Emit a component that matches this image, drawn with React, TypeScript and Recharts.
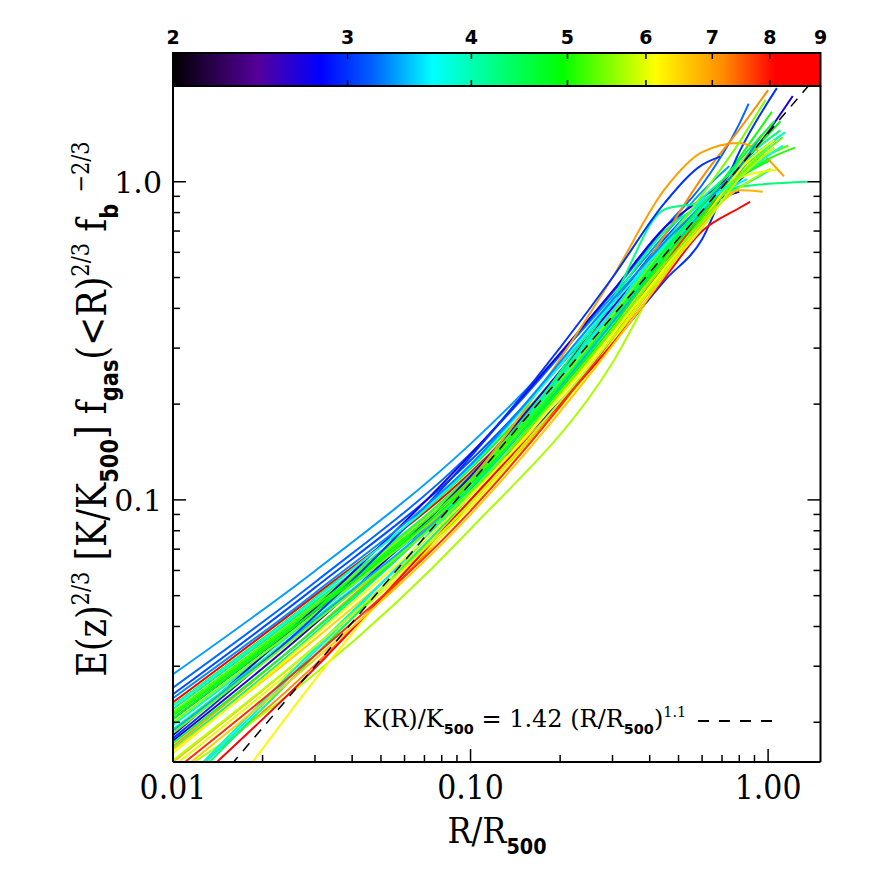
import React from 'react';
import { LineChart, ComposedChart, Line, XAxis, YAxis, ReferenceArea, Label } from 'recharts';

// ---------- data ----------
const GRID_X = [0.01, 0.03, 0.1, 0.3, 0.45, 0.6, 0.8];

const C01 = [0.0283, 0.0598, 0.150, 0.436, 0.682, 0.931];
const C02 = [0.0257, 0.0551, 0.140, 0.448, 0.719, 0.977, 1.52];
const C03 = [0.0245, 0.0530, 0.133, 0.413, 0.664, 0.867, 1.01];
const C04 = [0.0231, 0.0501, 0.122, 0.371, 0.597, 0.826, 1.05];
const C05 = [0.0226, 0.0491, 0.1255, 0.391, 0.613, 0.826, 1.19];
const C06 = [0.0220, 0.0478, 0.120, 0.391, 0.630, 0.846, 1.14];
const C07 = [0.0215, 0.0469, 0.1187, 0.371, 0.597, 0.787, 1.057];
const C08 = [0.0210, 0.0455, 0.1155, 0.381, 0.613, 0.806, 1.03];
const C09 = [0.0205, 0.0444, 0.108, 0.31, 0.49, 0.66, 1.24];
const C10 = [0.0196, 0.0434, 0.1123, 0.391, 0.613, 0.806, 1.067];
const C11 = [0.0182, 0.0457, 0.139, 0.453, 0.719, 0.888, 1.11];
const C12 = [0.0175, 0.0408, 0.1187, 0.402, 0.630, 0.826];
const C13 = [0.0168, 0.0394, 0.1155, 0.50, 0.95, 1.24, 1.325];
const C14 = [0.0125, 0.0303, 0.098, 0.385, 0.68, 1.03, 1.46];
const C15 = [0.0190, 0.0424, 0.109, 0.425, 0.70, 0.85, 0.964];
const C16 = [0.0165, 0.0382, 0.1123, 0.425, 0.82, 0.86, 0.963];
const C17 = [0.0135, 0.0284, 0.081, 0.27, 0.53, 0.75, 0.957];
const C18 = [0.0068, 0.0272, 0.105, 0.34, 0.55, 0.78, 1.067];
const C19 = [0.0164, 0.0365, 0.1004, 0.3415, 0.566, 0.806, 1.13];
const C20 = [0.0150, 0.0346, 0.0977, 0.315, 0.523, 0.732, 0.94];
const C21 = [0.0145, 0.0336, 0.095, 0.315, 0.537, 0.768, 1.027];
const C22 = [0.0120, 0.0342, 0.1062, 0.381, 0.647, 0.888, 1.117];
const C23 = [0.0115, 0.0324, 0.1033, 0.361, 0.597, 0.846, 1.087];
const C24 = [0.0118, 0.0334, 0.1092, 0.391, 0.647, 0.867, 0.99];
const C25 = [0.0200, 0.0439, 0.1123, 0.381, 0.630, 0.909, 1.33];
const C26 = [0.0212, 0.0462, 0.1155, 0.361, 0.566, 0.768, 1.027];
const C27 = [0.0188, 0.0419, 0.1092, 0.361, 0.581, 0.806, 1.07];
const C28 = [0.0178, 0.0432, 0.1365, 0.50, 0.86, 1.13];
const C29 = [0.0112, 0.0296, 0.100, 0.31, 0.50, 0.70, 0.827];
const C30 = [0.0140, 0.0325, 0.0924, 0.323, 0.551, 0.787, 1.04];
const C31 = [0.0135, 0.0315, 0.0899, 0.306, 0.509, 0.75, 1.08];
const C32 = [0.0160, 0.0376, 0.1033, 0.332, 0.537, 0.75, 1.087];
const C33 = [0.0205, 0.0448, 0.1123, 0.351, 0.581, 0.787, 1.11];
const C34 = [0.0225, 0.0488, 0.127, 0.413, 0.630, 0.826, 1.036];
const C35 = [0.0152, 0.0346, 0.0977, 0.323, 0.523, 0.715, 1.022];
const C36 = [0.0238, 0.0510, 0.129, 0.425, 0.647, 0.846, 1.11];
const C37 = [0.0172, 0.0392, 0.1092, 0.371, 0.613, 0.846, 1.167];
const C38 = [0.0185, 0.0413, 0.1062, 0.3415, 0.551, 0.75, 1.045];

const CURVES = [C01, C02, C03, C04, C05, C06, C07, C08, C09, C10, C11, C12, C13, C14, C15, C16, C17, C18, C19,
  C20, C21, C22, C23, C24, C25, C26, C27, C28, C29, C30, C31, C32, C33, C34, C35, C36, C37, C38];

// temperature (keV) of each cluster -> colour
const CURVE_T = [3.35, 3.2, 3.1, 8.8, 5.0, 4.3, 5.3, 4.8, 3.0, 3.9, 2.7, 2.6, 7.0, 7.2, 4.3, 4.2, 5.7, 6.2, 6.5,
  6.8, 6.0, 4.0, 4.4, 3.6, 5.5, 5.1, 3.4, 3.0, 8.2, 7.8, 6.6, 6.1, 4.9, 3.8, 5.8, 3.3, 4.6, 5.4];

// last point of each profile
const END_X = [0.74, 0.86, 0.84, 0.93, 1.03, 1.10, 1.17, 1.02, 1.07, 1.10, 1.21, 0.80, 1.13, 1.0, 1.36, 1.0, 1.02, 0.95, 1.02,
  0.96, 1.07, 1.14, 1.05, 0.85, 0.98, 1.23, 0.85, 0.69, 0.87, 0.85, 0.88, 1.05, 1.1, 1.12, 1.05, 0.95, 1.05, 1.12];
const END_Y = [1.12, 1.76, 1.05, 1.18, 1.66, 1.45, 1.30, 1.17, 1.97, 1.40, 1.86, 0.93, 1.04, 1.94, 1.0, 1.08, 1.10, 1.25, 1.5,
  0.93, 1.09, 1.43, 1.35, 1.02, 1.81, 1.28, 1.15, 1.20, 0.865, 1.1, 1.25, 1.35, 1.55, 1.3, 1.28, 1.4, 1.55, 1.38];

// K(R)/K500 = 1.42 (R/R500)^1.1 (straight line in log-log)
const FIT_X = [0.01, 1.5];
const FIT_Y = [0.00896, 2.22];

const X_TICKS = [0.01, 0.02, 0.03, 0.04, 0.05, 0.06, 0.07, 0.08, 0.09, 0.1, 0.2, 0.3, 0.4, 0.5, 0.6, 0.7, 0.8, 0.9, 1.0];
const X_MAJOR = [0.01, 0.1, 1.0];
const X_MAJOR_LABELS = ['0.01', '0.10', '1.00'];
const Y_TICKS = [0.02, 0.03, 0.04, 0.05, 0.06, 0.07, 0.08, 0.09, 0.1, 0.2, 0.3, 0.4, 0.5, 0.6, 0.7, 0.8, 0.9, 1.0];
const Y_MAJOR = [0.1, 1.0];
const Y_MAJOR_LABELS = ['0.1', '1.0'];
const CB_TICKS = [2, 3, 4, 5, 6, 7, 8, 9];

// colour table (fraction along bar -> colour)
const CB_POS = [0, 0.13, 0.228, 0.31, 0.40, 0.50, 0.60, 0.745, 0.85, 0.93, 1];
const CB_COL = ['#000000', '#55009a', '#0000ff', '#0064ff', '#00ffff', '#00ff80', '#00ff00', '#ffff00', '#ff8c00', '#ff0000', '#ff0000'];

// ---------- helpers ----------
const SERIF = "'DejaVu Serif', serif";
const SANS = "'DejaVu Sans', sans-serif";

const hex = (c: string) => [1, 3, 5].map((i) => parseInt(c.slice(i, i + 2), 16));
const cmap = (t: number) => {
  const f = Math.min(1, Math.max(0, Math.log(t / 2) / Math.log(9 / 2)));
  let k = 0;
  while (k < CB_POS.length - 2 && f > CB_POS[k + 1]) k++;
  const u = (f - CB_POS[k]) / (CB_POS[k + 1] - CB_POS[k]);
  const a = hex(CB_COL[k]);
  const b = hex(CB_COL[k + 1]);
  const m = a.map((v, i) => Math.round(v + (b[i] - v) * u));
  return `rgb(${m[0]},${m[1]},${m[2]})`;
};

const curveData = CURVES.map((vals, i) => {
  const pts = vals.map((y, j) => ({ x: GRID_X[j], y }));
  pts.push({ x: END_X[i], y: END_Y[i] });
  return pts;
});
const fitData = FIT_X.map((x, i) => ({ x, y: FIT_Y[i] }));

type Seg = { t: string; k: 'n' | 'sup' | 'sub' };
const rich = (segs: Seg[], F: number) => {
  let shift = 0;
  return segs.map((s, i) => {
    const target = s.k === 'sup' ? -0.42 * F : s.k === 'sub' ? 0.3 * F : 0;
    const dy = target - shift;
    shift = target;
    return (
      <tspan key={i} dy={dy} fontSize={s.k === 'n' ? F : 0.6 * F}
        fontFamily={s.k === 'sub' ? SANS : SERIF} fontWeight={s.k === 'sub' ? 700 : 400}
        style={{ whiteSpace: 'pre' }}>
        {s.t}
      </tspan>
    );
  });
};

const Y_TITLE: Seg[] = [
  { t: 'E(z)', k: 'n' }, { t: '2/3', k: 'sup' }, { t: ' [K/K', k: 'n' }, { t: '500', k: 'sub' },
  { t: '] f', k: 'n' }, { t: 'gas', k: 'sub' }, { t: '(<R)', k: 'n' }, { t: '2/3', k: 'sup' },
  { t: ' f', k: 'n' }, { t: 'b', k: 'sub' }, { t: ' ', k: 'n' }, { t: '\u22122/3', k: 'sup' },
];
const X_TITLE: Seg[] = [{ t: 'R/R', k: 'n' }, { t: '500', k: 'sub' }];
const NOTE: Seg[] = [
  { t: 'K(R)/K', k: 'n' }, { t: '500', k: 'sub' }, { t: ' = 1.42 (R/R', k: 'n' }, { t: '500', k: 'sub' },
  { t: ')', k: 'n' }, { t: '1.1', k: 'sup' },
];

// ---------- ticks / labels ----------
const XTick = (p: any) => {
  const { x, y, payload } = p;
  const k = X_MAJOR.indexOf(payload.value);
  const len = k >= 0 ? 13 : 7;
  return (
    <g>
      <line x1={x} x2={x} y1={y} y2={y - len} stroke="#000" strokeWidth={1.5} />
      {k >= 0 && (
        <text transform={`translate(${x},${y + 37}) scale(1,1.12)`} textAnchor="middle" fontFamily={SERIF}
          fontSize={30} fill="#000">
          {X_MAJOR_LABELS[k]}
        </text>
      )}
    </g>
  );
};
const YTickL = (p: any) => {
  const { x, y, payload } = p;
  const k = Y_MAJOR.indexOf(payload.value);
  const len = k >= 0 ? 13 : 7;
  return (
    <g>
      <line x1={x} x2={x + len} y1={y} y2={y} stroke="#000" strokeWidth={1.5} />
      {k >= 0 && (
        <text x={x - 11} y={y + 11} textAnchor="end" fontFamily={SERIF} fontSize={30} fill="#000">
          {Y_MAJOR_LABELS[k]}
        </text>
      )}
    </g>
  );
};
const YTickR = (p: any) => {
  const { x, y, payload } = p;
  const len = Y_MAJOR.indexOf(payload.value) >= 0 ? 13 : 7;
  return <line x1={x} x2={x - len} y1={y} y2={y} stroke="#000" strokeWidth={1.5} />;
};
const CB_H = 33;
const CbTick = (p: any) => {
  const { x, y, payload } = p;
  const v = payload.value;
  const inner = v > 2 && v < 9;
  return (
    <g>
      {inner && <line x1={x} x2={x} y1={y} y2={y + 6} stroke="#000" strokeWidth={1.5} />}
      {inner && <line x1={x} x2={x} y1={y + CB_H} y2={y + CB_H - 6} stroke="#000" strokeWidth={1.5} />}
      <text x={x} y={y - 9} textAnchor="middle" fontFamily={SANS} fontWeight={700} fontSize={19} fill="#000">
        {v}
      </text>
    </g>
  );
};

const YTitle = () => (
  <text transform="translate(106,409) rotate(-90) scale(1,1.15)" textAnchor="middle" fill="#000">
    {rich(Y_TITLE, 35)}
  </text>
);
const XTitle = () => (
  <text transform="translate(497,843) scale(1,1.12)" textAnchor="middle" fill="#000">
    {rich(X_TITLE, 32)}
  </text>
);
const Note = () => (
  <g>
    <text x={363} y={727} fill="#000">{rich(NOTE, 24)}</text>
    <line x1={698} x2={772} y1={721} y2={721} stroke="#000" strokeWidth={1.8} strokeDasharray="11 10" />
  </g>
);

const AXIS_LINE = { stroke: '#000', strokeWidth: 2 };

export default function App() {
  return (
    <div style={{ position: 'absolute', left: 0, top: 0, width: 872, height: 872, background: '#fff' }}>
      <div style={{ position: 'absolute', left: 0, top: 0 }}>
        <ComposedChart width={872} height={100} data={CB_TICKS.map((t) => ({ t, v: 0.5 }))}
          margin={{ top: 52, right: 51.5, bottom: 14, left: 173 }}>
          <defs>
            <linearGradient id="cbGrad" x1="0" x2="1" y1="0" y2="0">
              {CB_POS.map((p, i) => (
                <stop key={i} offset={p} stopColor={CB_COL[i]} />
              ))}
            </linearGradient>
          </defs>
          <XAxis xAxisId="cb" dataKey="t" type="number" scale="log" domain={[2, 9]} allowDataOverflow
            orientation="top" ticks={CB_TICKS} interval={0} height={1} tickSize={0} tickMargin={0}
            tickLine={false} axisLine={false} tick={CbTick} />
          <YAxis yAxisId="cbY" type="number" domain={[0, 1]} hide />
          <ReferenceArea xAxisId="cb" yAxisId="cbY" x1={2} x2={9} y1={0} y2={1} fill="url(#cbGrad)"
            fillOpacity={1} stroke="#000" strokeWidth={2} ifOverflow="visible" />
          <Line xAxisId="cb" yAxisId="cbY" dataKey="v" stroke="none" dot={false} isAnimationActive={false} />
        </ComposedChart>
      </div>
      <div style={{ position: 'absolute', left: 0, top: 0 }}>
        <LineChart width={872} height={872} margin={{ top: 85, right: 50.5, bottom: 109, left: 172 }}>
          <XAxis xAxisId="b" dataKey="x" type="number" scale="log" domain={[0.01, 1.5]} allowDataOverflow
            ticks={X_TICKS} interval={0} height={1} tickSize={0} tickMargin={0} tickLine={false}
            axisLine={AXIS_LINE} tick={XTick}>
            <Label content={XTitle} />
          </XAxis>
          <XAxis xAxisId="t" dataKey="x" type="number" scale="log" domain={[0.01, 1.5]} allowDataOverflow
            orientation="top" height={1} tick={false} tickLine={false} axisLine={AXIS_LINE}>
            <Label content={Note} />
          </XAxis>
          <YAxis yAxisId="l" type="number" scale="log" domain={[0.015, 2.0]} allowDataOverflow
            ticks={Y_TICKS} interval={0} width={1} tickSize={0} tickMargin={0} tickLine={false}
            axisLine={AXIS_LINE} tick={YTickL}>
            <Label content={YTitle} />
          </YAxis>
          <YAxis yAxisId="r" orientation="right" type="number" scale="log" domain={[0.015, 2.0]} allowDataOverflow
            ticks={Y_TICKS} interval={0} width={1} tickSize={0} tickMargin={0} tickLine={false}
            axisLine={AXIS_LINE} tick={YTickR} />
          {curveData.map((d, i) => (
            <Line key={i} xAxisId="b" yAxisId="l" data={d} dataKey="y" type="monotone" dot={false}
              stroke={cmap(CURVE_T[i])} strokeWidth={2} isAnimationActive={false} />
          ))}
          <Line xAxisId="b" yAxisId="l" data={fitData} dataKey="y" type="linear" dot={false}
            stroke="#000" strokeWidth={1.5} strokeDasharray="10 8" isAnimationActive={false} />
        </LineChart>
      </div>
    </div>
  );
}
